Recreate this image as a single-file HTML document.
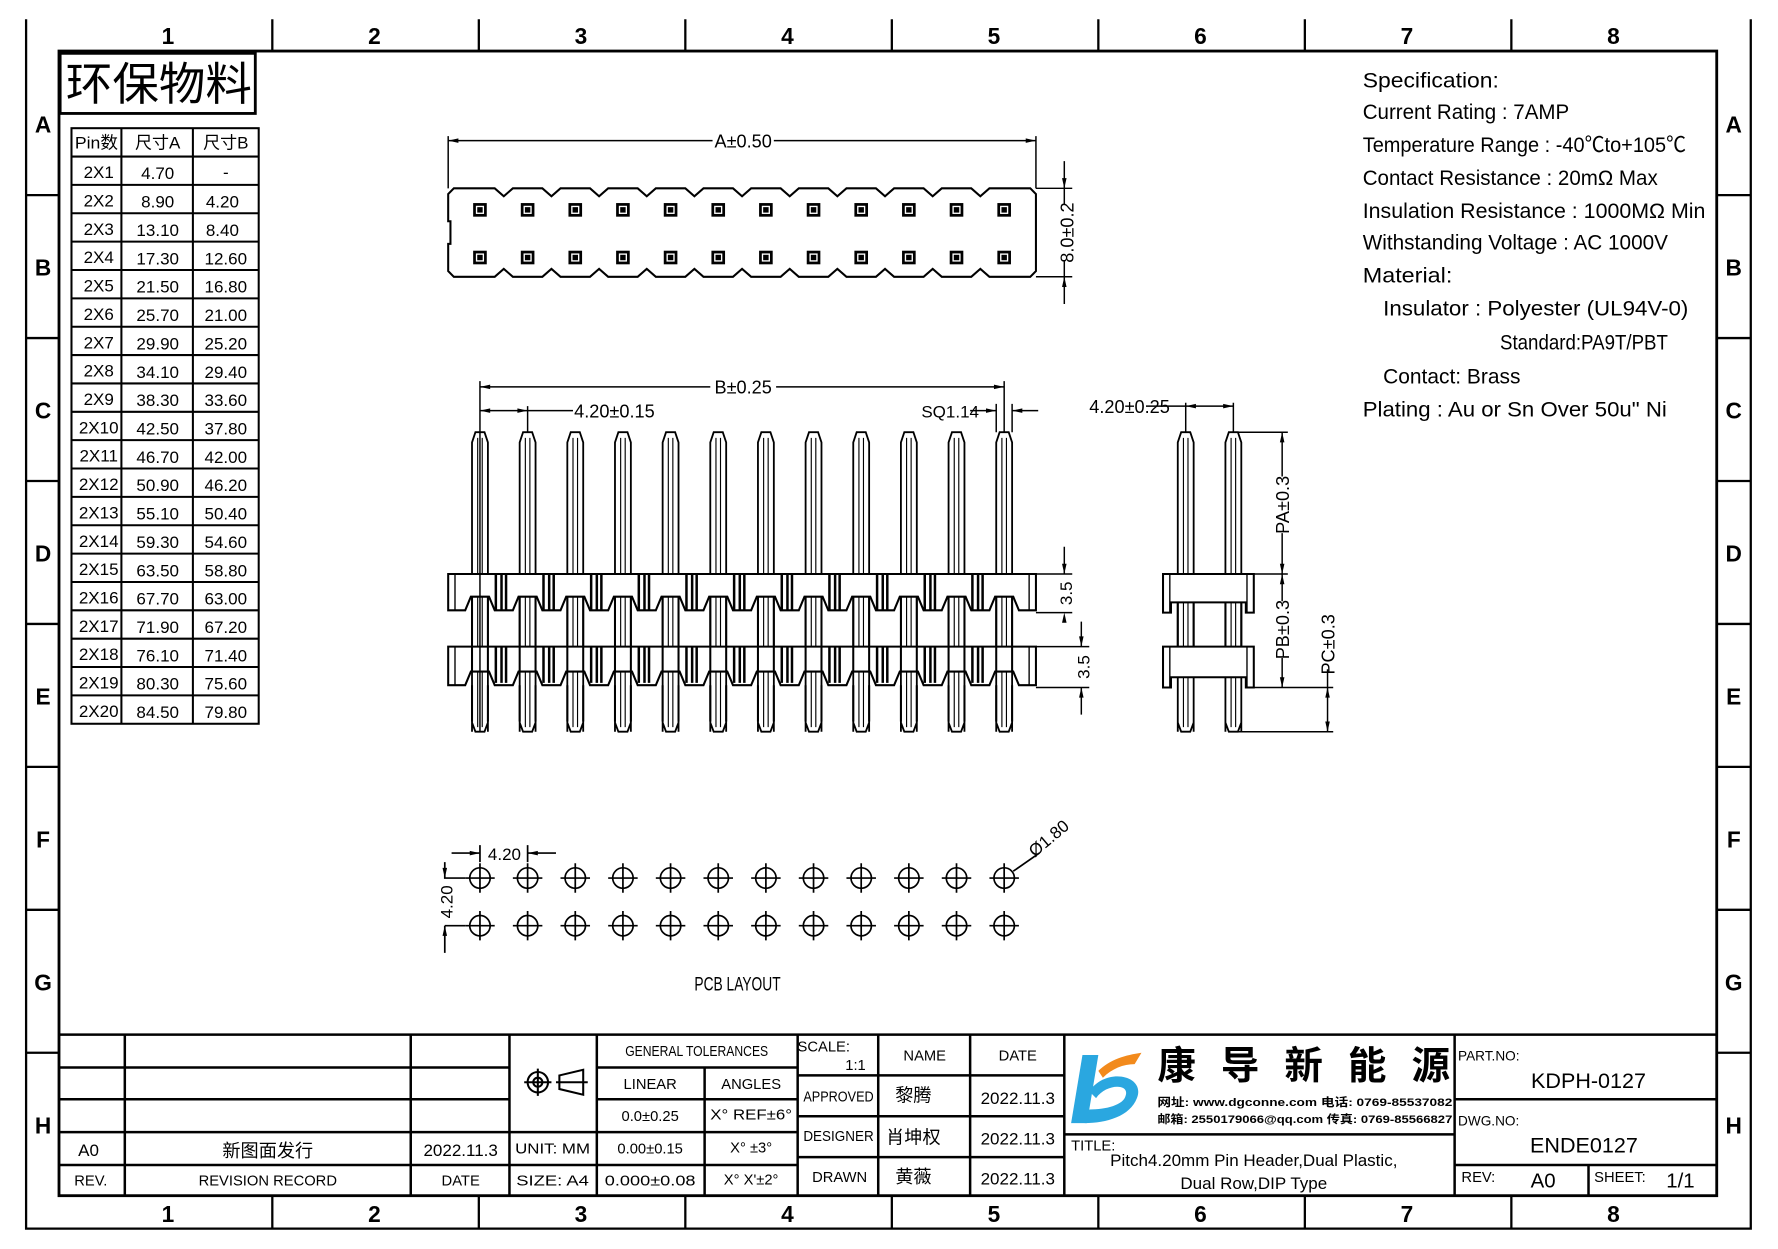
<!DOCTYPE html>
<html><head><meta charset="utf-8"><style>html,body{margin:0;padding:0;background:#fff}svg{display:block}
text{font-family:"Liberation Sans","Noto Sans CJK SC",sans-serif;fill:#000}</style></head><body>
<svg width="1778" height="1249" viewBox="0 0 1567 1101" preserveAspectRatio="none" xmlns="http://www.w3.org/2000/svg">
<defs>
<g id="sq"><rect x="-6" y="-6" width="12" height="12" fill="#000"/><rect x="-3" y="-3" width="6" height="6" fill="none" stroke="#fff" stroke-width="1.2"/></g>
<g id="pin" fill="none" stroke="#000" stroke-width="1.6"><path d="M-7,645 L-7,390 L-4,381 L4,381 L7,390 L7,645 M-7,637 L-4,645 L4,645 L7,637"/><path d="M-2,386 V641 M2,386 V641" stroke-width="1"/></g>
<g id="bars" stroke="#000"><path d="M14,0 V32 M19,0 V32 M23,0 V32" stroke-width="2.2"/></g>
<g id="hole" fill="none" stroke="#000" stroke-width="1.5"><circle r="9"/><path d="M-13,0 H13 M0,-13 V13"/></g>
<g id="sidepin" fill="none" stroke="#000" stroke-width="1.6"><path d="M-7,645 L-7,390 L-4,381 L4,381 L7,390 L7,645 M-7,637 L-4,645 L4,645 L7,637"/><path d="M-2,386 V641 M2,386 V641" stroke-width="1"/></g>
</defs>
<g fill="none" stroke="#000">
<path d="M23,17 V1083 H1543 V17" stroke-width="2"/>
<rect x="52" y="45" width="1461" height="1009" stroke-width="2.5"/>
<path d="M240,17V45 M422,17V45 M604,17V45 M786,17V45 M968,17V45 M1150,17V45 M1332,17V45 M240,1054V1083 M422,1054V1083 M604,1054V1083 M786,1054V1083 M968,1054V1083 M1150,1054V1083 M1332,1054V1083" stroke-width="2"/>
<path d="M23,172H52 M23,298H52 M23,424H52 M23,550H52 M23,676H52 M23,802H52 M23,928H52 M1513,172H1543 M1513,298H1543 M1513,424H1543 M1513,550H1543 M1513,676H1543 M1513,802H1543 M1513,928H1543" stroke-width="2"/>
</g>
<g font-size="20" font-weight="bold" text-anchor="middle">
<text x="148" y="39">1</text><text x="330" y="39">2</text><text x="512" y="39">3</text><text x="694" y="39">4</text><text x="876" y="39">5</text><text x="1058" y="39">6</text><text x="1240" y="39">7</text><text x="1422" y="39">8</text>
<text x="148" y="1077">1</text><text x="330" y="1077">2</text><text x="512" y="1077">3</text><text x="694" y="1077">4</text><text x="876" y="1077">5</text><text x="1058" y="1077">6</text><text x="1240" y="1077">7</text><text x="1422" y="1077">8</text>
<text x="38" y="117">A</text><text x="38" y="243">B</text><text x="38" y="369">C</text><text x="38" y="495">D</text><text x="38" y="621">E</text><text x="38" y="747">F</text><text x="38" y="873">G</text><text x="38" y="999">H</text>
<text x="1528" y="117">A</text><text x="1528" y="243">B</text><text x="1528" y="369">C</text><text x="1528" y="495">D</text><text x="1528" y="621">E</text><text x="1528" y="747">F</text><text x="1528" y="873">G</text><text x="1528" y="999">H</text>
</g>
<rect x="53" y="47" width="172" height="53" fill="none" stroke="#000" stroke-width="2.5"/>
<text x="58" y="88" font-size="40" textLength="164" lengthAdjust="spacingAndGlyphs">环保物料</text>
<g fill="none" stroke="#000" stroke-width="1.8">
<rect x="63" y="113" width="165" height="525"/>
<path d="M107,113V638 M170,113V638"/>
<path d="M63,138H228 M63,163H228 M63,188H228 M63,213H228 M63,238H228 M63,263H228 M63,288H228 M63,313H228 M63,338H228 M63,363H228 M63,388H228 M63,413H228 M63,438H228 M63,463H228 M63,488H228 M63,513H228 M63,538H228 M63,563H228 M63,588H228 M63,613H228"/>
</g>
<g font-size="15" text-anchor="middle">
<text x="85" y="131" textLength="38" lengthAdjust="spacingAndGlyphs">Pin数</text><text x="139" y="131">尺寸A</text><text x="199" y="131">尺寸B</text>
<text x="87" y="157">2X1</text><text x="139" y="158">4.70</text><text x="199" y="157">-</text>
<text x="87" y="182">2X2</text><text x="139" y="183">8.90</text><text x="196" y="183">4.20</text>
<text x="87" y="207">2X3</text><text x="139" y="208">13.10</text><text x="196" y="208">8.40</text>
<text x="87" y="232">2X4</text><text x="139" y="233">17.30</text><text x="199" y="233">12.60</text>
<text x="87" y="257">2X5</text><text x="139" y="258">21.50</text><text x="199" y="258">16.80</text>
<text x="87" y="282">2X6</text><text x="139" y="283">25.70</text><text x="199" y="283">21.00</text>
<text x="87" y="307">2X7</text><text x="139" y="308">29.90</text><text x="199" y="308">25.20</text>
<text x="87" y="332">2X8</text><text x="139" y="333">34.10</text><text x="199" y="333">29.40</text>
<text x="87" y="357">2X9</text><text x="139" y="358">38.30</text><text x="199" y="358">33.60</text>
<text x="87" y="382">2X10</text><text x="139" y="383">42.50</text><text x="199" y="383">37.80</text>
<text x="87" y="407">2X11</text><text x="139" y="408">46.70</text><text x="199" y="408">42.00</text>
<text x="87" y="432">2X12</text><text x="139" y="433">50.90</text><text x="199" y="433">46.20</text>
<text x="87" y="457">2X13</text><text x="139" y="458">55.10</text><text x="199" y="458">50.40</text>
<text x="87" y="482">2X14</text><text x="139" y="483">59.30</text><text x="199" y="483">54.60</text>
<text x="87" y="507">2X15</text><text x="139" y="508">63.50</text><text x="199" y="508">58.80</text>
<text x="87" y="532">2X16</text><text x="139" y="533">67.70</text><text x="199" y="533">63.00</text>
<text x="87" y="557">2X17</text><text x="139" y="558">71.90</text><text x="199" y="558">67.20</text>
<text x="87" y="582">2X18</text><text x="139" y="583">76.10</text><text x="199" y="583">71.40</text>
<text x="87" y="607">2X19</text><text x="139" y="608">80.30</text><text x="199" y="608">75.60</text>
<text x="87" y="632">2X20</text><text x="139" y="633">84.50</text><text x="199" y="633">79.80</text>
</g>
<g font-size="19">
<text x="1201" y="77" textLength="120" lengthAdjust="spacingAndGlyphs">Specification:</text>
<text x="1201" y="105" textLength="182" lengthAdjust="spacingAndGlyphs">Current Rating : 7AMP</text>
<text x="1201" y="134" textLength="285" lengthAdjust="spacingAndGlyphs">Temperature Range : -40℃to+105℃</text>
<text x="1201" y="163" textLength="260" lengthAdjust="spacingAndGlyphs">Contact Resistance : 20mΩ Max</text>
<text x="1201" y="192" textLength="302" lengthAdjust="spacingAndGlyphs">Insulation Resistance : 1000MΩ Min</text>
<text x="1201" y="220" textLength="269" lengthAdjust="spacingAndGlyphs">Withstanding Voltage : AC 1000V</text>
<text x="1201" y="249" textLength="79" lengthAdjust="spacingAndGlyphs">Material:</text>
<text x="1219" y="278" textLength="269" lengthAdjust="spacingAndGlyphs">Insulator : Polyester (UL94V-0)</text>
<text x="1322" y="308" textLength="148" lengthAdjust="spacingAndGlyphs">Standard:PA9T/PBT</text>
<text x="1219" y="338" textLength="121" lengthAdjust="spacingAndGlyphs">Contact: Brass</text>
<text x="1201" y="367" textLength="268" lengthAdjust="spacingAndGlyphs">Plating : Au or Sn Over 50u" Ni</text>
</g>
<g fill="none" stroke="#000" stroke-width="1.8">
<path d="M400,166 H436 L444,173 L452,166 H478 L486,173 L494,166 H520 L528,173 L536,166 H562 L570,173 L578,166 H604 L612,173 L620,166 H646 L654,173 L662,166 H688 L696,173 L704,166 H730 L738,173 L746,166 H772 L780,173 L788,166 H814 L822,173 L830,166 H856 L864,173 L872,166 H908 L913,171 V239 L908,244 H872 L864,237 L856,244 H830 L822,237 L814,244 H788 L780,237 L772,244 H746 L738,237 L730,244 H704 L696,237 L688,244 H662 L654,237 L646,244 H620 L612,237 L604,244 H578 L570,237 L562,244 H536 L528,237 L520,244 H494 L486,237 L478,244 H452 L444,237 L436,244 H400 L395,239 V215 L397,215 V195 L395,195 V171 Z"/>
<path d="M395,120 V166 M913,120 V166 M395,124 H628 M682,124 H913" stroke-width="1.3"/>
<path d="M913,166 H945 M913,244 H945 M938,142 V166 M938,244 V268 M938,166 V180 M938,230 V244" stroke-width="1.3"/>
</g>
<path d="M395,124 l9,-2 v4z M913,124 l-9,-2 v4z M938,166 l-2,-9 h4z M938,244 l-2,9 h4z" fill="#000"/>
<text x="655" y="130" font-size="16" text-anchor="middle">A±0.50</text>
<text transform="translate(946,205) rotate(-90)" font-size="16" text-anchor="middle">8.0±0.2</text>
<g>
<use href="#sq" x="423" y="185"/><use href="#sq" x="465" y="185"/><use href="#sq" x="507" y="185"/><use href="#sq" x="549" y="185"/><use href="#sq" x="591" y="185"/><use href="#sq" x="633" y="185"/><use href="#sq" x="675" y="185"/><use href="#sq" x="717" y="185"/><use href="#sq" x="759" y="185"/><use href="#sq" x="801" y="185"/><use href="#sq" x="843" y="185"/><use href="#sq" x="885" y="185"/>
<use href="#sq" x="423" y="227"/><use href="#sq" x="465" y="227"/><use href="#sq" x="507" y="227"/><use href="#sq" x="549" y="227"/><use href="#sq" x="591" y="227"/><use href="#sq" x="633" y="227"/><use href="#sq" x="675" y="227"/><use href="#sq" x="717" y="227"/><use href="#sq" x="759" y="227"/><use href="#sq" x="801" y="227"/><use href="#sq" x="843" y="227"/><use href="#sq" x="885" y="227"/>
</g>
<g fill="#fff" stroke="#000" stroke-width="1.8">
<use href="#pin" x="423"/><use href="#pin" x="465"/><use href="#pin" x="507"/><use href="#pin" x="549"/><use href="#pin" x="591"/><use href="#pin" x="633"/><use href="#pin" x="675"/><use href="#pin" x="717"/><use href="#pin" x="759"/><use href="#pin" x="801"/><use href="#pin" x="843"/><use href="#pin" x="885"/>
</g>
<g fill="none" stroke="#000" stroke-width="1.8">
<path d="M395,506 H913 V538 H898 L893,526 H877 L872,538 H856 L851,526 H835 L830,538 H814 L809,526 H793 L788,538 H772 L767,526 H751 L746,538 H730 L725,526 H709 L704,538 H688 L683,526 H667 L662,538 H646 L641,526 H625 L620,538 H604 L599,526 H583 L578,538 H562 L557,526 H541 L536,538 H520 L515,526 H499 L494,538 H478 L473,526 H457 L452,538 H436 L431,526 H415 L410,538 H395 Z" fill="#fff"/>
<path d="M395,570 H913 V604 H898 L893,592 H877 L872,604 H856 L851,592 H835 L830,604 H814 L809,592 H793 L788,604 H772 L767,592 H751 L746,604 H730 L725,592 H709 L704,604 H688 L683,592 H667 L662,604 H646 L641,592 H625 L620,604 H604 L599,592 H583 L578,604 H562 L557,592 H541 L536,604 H520 L515,592 H499 L494,604 H478 L473,592 H457 L452,604 H436 L431,592 H415 L410,604 H395 Z" fill="#fff"/>
<path d="M401,506V538 M907,506V538 M401,570V604 M907,570V604" stroke-width="1.2"/>
<path d="M416,526V592 M430,526V592 M458,526V592 M472,526V592 M500,526V592 M514,526V592 M542,526V592 M556,526V592 M584,526V592 M598,526V592 M626,526V592 M640,526V592 M668,526V592 M682,526V592 M710,526V592 M724,526V592 M752,526V592 M766,526V592 M794,526V592 M808,526V592 M836,526V592 M850,526V592 M878,526V592 M892,526V592"/>
<path d="M416,604V636 M430,604V636 M458,604V636 M472,604V636 M500,604V636 M514,604V636 M542,604V636 M556,604V636 M584,604V636 M598,604V636 M626,604V636 M640,604V636 M668,604V636 M682,604V636 M710,604V636 M724,604V636 M752,604V636 M766,604V636 M794,604V636 M808,604V636 M836,604V636 M850,604V636 M878,604V636 M892,604V636"/>
</g>
<g>
<use href="#bars" x="423" y="506"/><use href="#bars" x="465" y="506"/><use href="#bars" x="507" y="506"/><use href="#bars" x="549" y="506"/><use href="#bars" x="591" y="506"/><use href="#bars" x="633" y="506"/><use href="#bars" x="675" y="506"/><use href="#bars" x="717" y="506"/><use href="#bars" x="759" y="506"/><use href="#bars" x="801" y="506"/><use href="#bars" x="843" y="506"/>
<use href="#bars" x="423" y="570"/><use href="#bars" x="465" y="570"/><use href="#bars" x="507" y="570"/><use href="#bars" x="549" y="570"/><use href="#bars" x="591" y="570"/><use href="#bars" x="633" y="570"/><use href="#bars" x="675" y="570"/><use href="#bars" x="717" y="570"/><use href="#bars" x="759" y="570"/><use href="#bars" x="801" y="570"/><use href="#bars" x="843" y="570"/>
</g>
<g fill="none" stroke="#000" stroke-width="1.3">
<path d="M423,336 V645 M885,336 V381 M423,341 H626 M684,341 H885 M465,358 V381 M423,362 H505"/>
<path d="M855,362 H878 M892,362 H915 M878,356 V381 M892,356 V381"/>
<path d="M913,506 H945 M913,540 H945 M938,482 V506 M913,570 H960 M913,606 H960 M953,548 V570 M953,606 V630"/>
</g>
<path d="M423,341 l9,-2 v4z M885,341 l-9,-2 v4z M423,362 l9,-2 v4z M465,362 l-9,-2 v4z M878,362 l-9,-2 v4z M892,362 l9,-2 v4z M938,506 l-2,-9 h4z M938,540 l-2,9 h4z M953,570 l-2,-9 h4z M953,606 l-2,9 h4z" fill="#000"/>
<text x="655" y="347" font-size="16" text-anchor="middle">B±0.25</text>
<text x="506" y="368" font-size="16">4.20±0.15</text>
<text x="812" y="368" font-size="15">SQ1.14</text>
<text transform="translate(945,523) rotate(-90)" font-size="15" text-anchor="middle">3.5</text>
<text transform="translate(960,588) rotate(-90)" font-size="15" text-anchor="middle">3.5</text>
<g fill="#fff" stroke="#000" stroke-width="1.8">
<use href="#sidepin" x="1045"/><use href="#sidepin" x="1087"/>
<path d="M1025,506 H1105 V540 H1098 V531 H1032 V540 H1025 Z"/>
<path d="M1025,570 H1105 V606 H1098 V597 H1032 V606 H1025 Z"/>
<path d="M1031,506V540 M1099,506V540 M1031,570V606 M1099,570V606" fill="none" stroke-width="1.2"/>
<path d="M1038,531V570 M1052,531V570 M1080,531V570 M1094,531V570" fill="none"/>
</g>
<g fill="none" stroke="#000" stroke-width="1.3">
<path d="M1045,355 V381 M1087,355 V381 M1045,358 H1087 M1010,358 H1045"/>
<path d="M1087,381 H1135 M1105,506 H1135 M1105,606 H1175 M1087,645 H1175 M1130,381 V420 M1130,470 V530 M1130,580 V606 M1170,606 V620 M1170,590 V606 M1170,620 V645"/>
</g>
<path d="M1130,381 l-2,9 h4z M1130,506 l-2,-9 h4z M1130,506 l-2,9 h4z M1130,606 l-2,-9 h4z M1170,606 l-2,9 h4z M1170,645 l-2,-9 h4z M1045,358 l9,-2 v4z M1087,358 l-9,-2 v4z" fill="#000"/>
<text x="960" y="364" font-size="16">4.20±0.25</text>
<text transform="translate(1136,445) rotate(-90)" font-size="16" text-anchor="middle">PA±0.3</text>
<text transform="translate(1136,555) rotate(-90)" font-size="16" text-anchor="middle">PB±0.3</text>
<text transform="translate(1176,568) rotate(-90)" font-size="16" text-anchor="middle">PC±0.3</text>
<g>
<use href="#hole" x="423" y="774"/><use href="#hole" x="465" y="774"/><use href="#hole" x="507" y="774"/><use href="#hole" x="549" y="774"/><use href="#hole" x="591" y="774"/><use href="#hole" x="633" y="774"/><use href="#hole" x="675" y="774"/><use href="#hole" x="717" y="774"/><use href="#hole" x="759" y="774"/><use href="#hole" x="801" y="774"/><use href="#hole" x="843" y="774"/><use href="#hole" x="885" y="774"/>
<use href="#hole" x="423" y="816"/><use href="#hole" x="465" y="816"/><use href="#hole" x="507" y="816"/><use href="#hole" x="549" y="816"/><use href="#hole" x="591" y="816"/><use href="#hole" x="633" y="816"/><use href="#hole" x="675" y="816"/><use href="#hole" x="717" y="816"/><use href="#hole" x="759" y="816"/><use href="#hole" x="801" y="816"/><use href="#hole" x="843" y="816"/><use href="#hole" x="885" y="816"/>
</g>
<g fill="none" stroke="#000" stroke-width="1.5">
<path d="M398,752 H423 M465,752 H490 M423,745 V760 M465,745 V760"/>
<path d="M392,760 V774 H410 M392,816 H410 M392,816 V840"/>
<path d="M893,768 L916,752"/>
</g>
<path d="M423,752 l-9,-2 v4z M465,752 l9,-2 v4z M392,774 l-2,-9 h4z M392,816 l-2,9 h4z" fill="#000"/>
<text x="430" y="758" font-size="15">4.20</text>
<text transform="translate(399,795) rotate(-90)" font-size="15" text-anchor="middle">4.20</text>
<text transform="translate(912,756) rotate(-40)" font-size="15">Ø1.80</text>
<text x="650" y="873" font-size="17" text-anchor="middle" textLength="76" lengthAdjust="spacingAndGlyphs">PCB LAYOUT</text>
<g fill="none" stroke="#000" stroke-width="2.2">
<path d="M52,912 H1513"/>
<path d="M52,941 H449 M52,969 H449 M52,998 H526 M52,1027 H526"/>
<path d="M110,912 V1054 M362,912 V1054 M449,912 V1054 M526,912 V1054"/>
<path d="M526,941 H703 M526,969 H703 M526,998 H703 M526,1027 H703 M621,941 V1054 M703,912 V1054"/>
<path d="M703,948 H938 M703,984 H938 M703,1020 H938 M774,912 V1054 M855,912 V1054 M938,912 V1054"/>
<path d="M938,1000 H1282 M1282,912 V1054 M1282,969 H1513 M1282,1027 H1513 M1400,1027 V1054"/>
</g>
<g font-size="13" text-anchor="middle">
<text x="78" y="1019" font-size="15">A0</text><text x="236" y="1020" font-size="16">新图面发行</text><text x="406" y="1019" font-size="15">2022.11.3</text>
<text x="80" y="1045">REV.</text><text x="236" y="1045">REVISION RECORD</text><text x="406" y="1045">DATE</text>
<text x="487" y="1017" textLength="66" lengthAdjust="spacingAndGlyphs">UNIT: MM</text><text x="487" y="1045" textLength="64" lengthAdjust="spacingAndGlyphs">SIZE: A4</text>
<text x="614" y="931" textLength="126" lengthAdjust="spacingAndGlyphs">GENERAL TOLERANCES</text><text x="573" y="960">LINEAR</text><text x="662" y="960">ANGLES</text>
<text x="573" y="988">0.0±0.25</text><text x="662" y="987" textLength="72" lengthAdjust="spacingAndGlyphs">X° REF±6°</text>
<text x="573" y="1017">0.00±0.15</text><text x="662" y="1016">X° ±3°</text>
<text x="573" y="1045" textLength="80" lengthAdjust="spacingAndGlyphs">0.000±0.08</text><text x="662" y="1044">X° X'±2°</text>
<text x="726" y="927">SCALE:</text><text x="754" y="943">1:1</text>
<text x="815" y="935">NAME</text><text x="897" y="935">DATE</text>
<text x="739" y="971" textLength="62" lengthAdjust="spacingAndGlyphs">APPROVED</text><text x="805" y="971" font-size="16">黎腾</text><text x="897" y="973" font-size="15">2022.11.3</text>
<text x="739" y="1006" textLength="62" lengthAdjust="spacingAndGlyphs">DESIGNER</text><text x="805" y="1008" font-size="16">肖坤权</text><text x="897" y="1009" font-size="15">2022.11.3</text>
<text x="740" y="1042">DRAWN</text><text x="805" y="1043" font-size="16">黄薇</text><text x="897" y="1044" font-size="15">2022.11.3</text>
</g>
<g fill="none" stroke="#000" stroke-width="1.8">
<circle cx="474" cy="954" r="9"/><circle cx="474" cy="954" r="4"/><path d="M462,954 H486 M474,942 V966"/>
<path d="M493,948 L514,943 V965 L493,960 Z M490,954 H518"/>
</g>
<path d="M954,930 L968,930 L958,990 L944,990 Z" fill="#2aa7e0"/>
<path d="M960,962 C975,940 1010,948 1002,968 C996,984 975,990 956,990 L960,978 C975,978 990,974 992,966 C996,955 975,955 966,968 Z" fill="#2aa7e0"/>
<path d="M968,944 C978,934 992,930 1006,928 L1000,938 C990,938 980,942 972,950 Z" fill="#f28a1c"/>
<text x="1020" y="951" font-size="34" font-weight="bold" letter-spacing="22">康导新能源</text>
<text x="1020" y="975" font-size="10" font-weight="bold" textLength="260" lengthAdjust="spacingAndGlyphs">网址: www.dgconne.com  电话: 0769-85537082</text>
<text x="1020" y="990" font-size="10" font-weight="bold" textLength="260" lengthAdjust="spacingAndGlyphs">邮箱: 2550179066@qq.com 传真: 0769-85566827</text>
<text x="944" y="1014" font-size="13">TITLE:</text>
<text x="1105" y="1028" font-size="15" text-anchor="middle">Pitch4.20mm Pin Header,Dual Plastic,</text>
<text x="1105" y="1048" font-size="15" text-anchor="middle">Dual Row,DIP Type</text>
<text x="1285" y="935" font-size="12">PART.NO:</text>
<text x="1400" y="959" font-size="19" text-anchor="middle">KDPH-0127</text>
<text x="1285" y="992" font-size="12">DWG.NO:</text>
<text x="1396" y="1016" font-size="19" text-anchor="middle">ENDE0127</text>
<text x="1288" y="1042" font-size="13">REV:</text>
<text x="1360" y="1047" font-size="18" text-anchor="middle">A0</text>
<text x="1405" y="1042" font-size="13">SHEET:</text>
<text x="1481" y="1047" font-size="18" text-anchor="middle">1/1</text>
</svg>
</body></html>
